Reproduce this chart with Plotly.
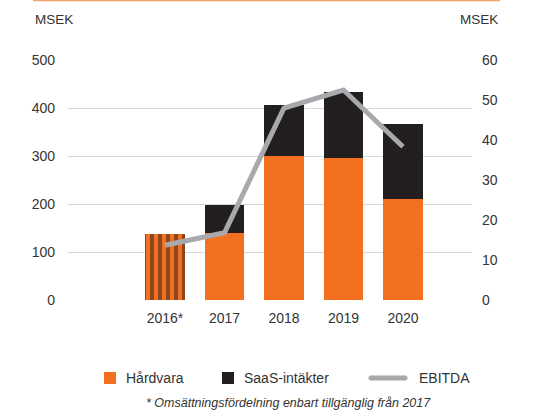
import plotly.graph_objects as go

years = ["2016*", "2017", "2018", "2019", "2020"]
hardvara = [138, 140, 300, 296, 210]
saas = [0, 58, 106, 137, 157]
ebitda = [13.7, 16.8, 48, 52.5, 38.3]
legend_labels = ["Hårdvara", "SaaS-intäkter", "EBITDA"]

ORANGE = "#f37021"
BLACK = "#231f20"
GREY = "#a7a9ac"
TXT = "#333333"
FONT = "Liberation Sans"

L, R, T, B = 68, 472, 60, 300
W, H = R - L, B - T


def px(x):
    return (x - L) / W


def py(y):
    return (B - y) / H


fig = go.Figure()
fig.add_trace(go.Bar(
    x=years, y=hardvara, name=legend_labels[0],
    marker=dict(color=ORANGE, line=dict(width=0),
                pattern=dict(shape=["|", "", "", "", ""], fgcolor=BLACK,
                             bgcolor=ORANGE, size=8, solidity=0.5, fillmode="overlay")),
    width=0.67, hoverinfo="skip",
))
fig.add_trace(go.Bar(
    x=years, y=saas, name=legend_labels[1],
    marker=dict(color=BLACK, line=dict(width=0)), width=0.67, hoverinfo="skip",
))
fig.add_trace(go.Scatter(
    x=years, y=ebitda, name=legend_labels[2], yaxis="y2", mode="lines",
    line=dict(color=GREY, width=5), hoverinfo="skip",
))

ann = [
    dict(text="MSEK", x=px(33), y=py(20), xanchor="left", font=dict(size=13.5, color=TXT)),
    dict(text="MSEK", x=px(500), y=py(20), xanchor="right", font=dict(size=13.5, color=TXT)),
    dict(text=legend_labels[0], x=px(124), y=py(378), xanchor="left"),
    dict(text=legend_labels[1], x=px(242), y=py(378), xanchor="left"),
    dict(text=legend_labels[2], x=px(417), y=py(378), xanchor="left"),
    dict(text="<i>* Omsättningsfördelning enbart tillgänglig från 2017</i>",
         x=px(288), y=py(403), xanchor="center", font=dict(size=12.5, color=TXT)),
]
for a in ann:
    a.update(xref="paper", yref="paper", yanchor="middle", showarrow=False)
    a.setdefault("font", dict(size=14, color=TXT))

shapes = [
    dict(type="line", x0=px(33), x1=px(500), y0=py(0.5), y1=py(0.5),
         line=dict(color="#f5a26a", width=1.5)),
    dict(type="rect", x0=px(104), x1=px(116), y0=py(384), y1=py(372),
         fillcolor=ORANGE, line=dict(width=0)),
    dict(type="rect", x0=px(222), x1=px(234), y0=py(384), y1=py(372),
         fillcolor=BLACK, line=dict(width=0)),
    dict(type="line", x0=px(371), x1=px(405), y0=py(378), y1=py(378),
         line=dict(color=GREY, width=5)),
    dict(type="circle", x0=px(368.5), x1=px(373.5), y0=py(380.5), y1=py(375.5),
         fillcolor=GREY, line=dict(width=0)),
    dict(type="circle", x0=px(402.5), x1=px(407.5), y0=py(380.5), y1=py(375.5),
         fillcolor=GREY, line=dict(width=0)),
]
for s in shapes:
    s.update(xref="paper", yref="paper")

fig.update_layout(
    width=557, height=415,
    margin=dict(l=L, r=557 - R, t=T, b=415 - B, autoexpand=False),
    paper_bgcolor="white", plot_bgcolor="white",
    barmode="stack",
    font=dict(family=FONT, size=14, color=TXT),
    showlegend=False,
    hovermode=False,
    xaxis=dict(type="category", range=[-1.63, 5.16], showgrid=False, showline=False,
               ticks="", ticklabelstandoff=8, tickfont=dict(size=14, color=TXT),
               fixedrange=True),
    yaxis=dict(range=[0, 500], dtick=100, showgrid=True, gridcolor="#d9d9d9", gridwidth=1,
               zeroline=False, showline=False, ticks="", ticklabelstandoff=12,
               tickfont=dict(size=14, color=TXT), fixedrange=True),
    yaxis2=dict(range=[0, 60], dtick=10, overlaying="y", side="right", showgrid=False,
                zeroline=False, showline=False, ticks="", ticklabelstandoff=9,
                tickfont=dict(size=14, color=TXT), fixedrange=True),
    annotations=ann,
    shapes=shapes,
)

fig.write_html("out.html", config={"displayModeBar": False},
               post_script="document.body.style.margin='0';")
